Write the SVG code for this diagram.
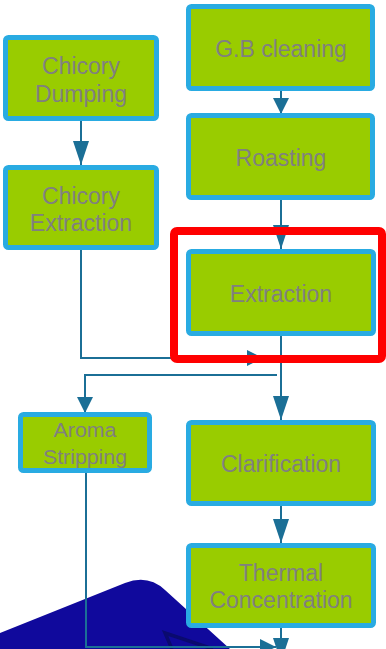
<svg xmlns="http://www.w3.org/2000/svg" width="386" height="649" viewBox="0 0 386 649">
<style>
.box{fill:#99CC00;stroke:#29ABE2;stroke-width:5}
.t{font-family:"Liberation Sans",Arial,sans-serif;font-size:23px;fill:#808080;text-anchor:middle}
.ts{font-family:"Liberation Sans",Arial,sans-serif;font-size:20px;fill:#808080;text-anchor:middle}
.c{fill:none;stroke:#1B6F96;stroke-width:2}
</style>
<defs>
<marker id="al" markerUnits="userSpaceOnUse" markerWidth="24" markerHeight="16" refX="24" refY="8" orient="auto"><path d="M0,0 L24,8 L0,16 Z" fill="#1B6F96"/></marker>
<marker id="as" markerUnits="userSpaceOnUse" markerWidth="16" markerHeight="16" refX="16" refY="8" orient="auto"><path d="M0,0 L16,8 L0,16 Z" fill="#1B6F96"/></marker>
</defs>
<rect width="386" height="649" fill="#ffffff"/>
<g id="backdrop">
<path d="M0,633 L125,583 Q148,574 165,590 L230,649 L0,649 Z" fill="#10099C"/>
<path d="M213,649 L165,633 L172,649" fill="none" stroke="#0A0A6E" stroke-width="3.5"/>
</g>
<g id="connectors">
<path class="c" d="M81,121 V165" marker-end="url(#al)"/>
<path class="c" d="M281,91 V114" marker-end="url(#as)"/>
<path class="c" d="M281,200 V249" marker-end="url(#al)"/>
<path class="c" d="M81,250 V358 H263" marker-end="url(#as)"/>
<path class="c" d="M281,336 V420" marker-end="url(#al)"/>
<path class="c" d="M277,375 H85 V413" marker-end="url(#as)"/>
<path class="c" d="M281,506 V543" marker-end="url(#al)"/>
<path class="c" d="M281,628 V662" marker-end="url(#al)"/>
<path class="c" d="M86,473 V647 H276" marker-end="url(#as)"/>
</g>
<g id="chicory-dumping">
<rect class="box" x="5.5" y="37.5" width="151" height="81" rx="3"/>
<text class="t" x="81" y="74">Chicory</text>
<text class="t" x="81" y="102">Dumping</text>
</g>
<g id="chicory-extraction">
<rect class="box" x="5.5" y="167.5" width="151" height="80" rx="3"/>
<text class="t" x="81" y="204">Chicory</text>
<text class="t" x="81" y="231">Extraction</text>
</g>
<g id="gb-cleaning">
<rect class="box" x="188.5" y="6.5" width="184" height="82" rx="3"/>
<text class="t" x="281" y="57">G.B cleaning</text>
</g>
<g id="roasting">
<rect class="box" x="188.5" y="115.5" width="184" height="82" rx="3"/>
<text class="t" x="281" y="166">Roasting</text>
</g>
<g id="extraction">
<rect class="box" x="188.5" y="251.5" width="185" height="82" rx="3"/>
<text class="t" x="281" y="302">Extraction</text>
</g>
<g id="aroma-stripping">
<rect class="box" x="20.5" y="414.5" width="129" height="56" rx="3"/>
<text class="ts" x="85" y="437" textLength="63" lengthAdjust="spacingAndGlyphs">Aroma</text>
<text class="ts" x="85" y="464" textLength="84" lengthAdjust="spacingAndGlyphs">Stripping</text>
</g>
<g id="clarification">
<rect class="box" x="188.5" y="422.5" width="185" height="81" rx="3"/>
<text class="t" x="281" y="472">Clarification</text>
</g>
<g id="thermal-concentration">
<rect class="box" x="188.5" y="545.5" width="185" height="80" rx="3"/>
<text class="t" x="281" y="581">Thermal</text>
<text class="t" x="281" y="607.5">Concentration</text>
</g>
<g id="highlight">
<rect x="174" y="231" width="208" height="128" rx="3" fill="none" stroke="#FF0000" stroke-width="8"/>
</g>
</svg>
